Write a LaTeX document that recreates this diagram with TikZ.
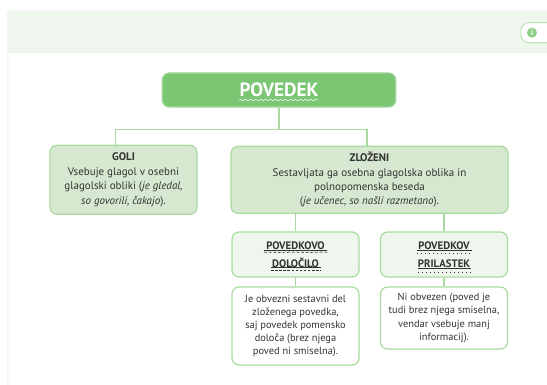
\documentclass[tikz,border=0pt]{standalone}
\usepackage{fontspec}
\setmainfont{PT Sans}
\usetikzlibrary{decorations.pathmorphing,calc}
\definecolor{band}{HTML}{EEF6EE}
\definecolor{edgeg}{HTML}{A9DBA0}
\definecolor{topg}{HTML}{7AC673}
\definecolor{midg}{HTML}{D6E9D0}
\definecolor{txt}{HTML}{333333}
\definecolor{cardedge}{HTML}{F5F5F5}
\tikzset{
  x=1pt,y=-1pt,
  conn/.style={draw=edgeg,line width=1.2pt},
  boxbase/.style={draw=edgeg,line width=1.2pt,rounded corners=7pt,align=center,inner sep=0pt,text=txt,font=\fontsize{11}{14.4}\selectfont},
  topbox/.style={boxbase,fill=topg,draw=topg!70!white,minimum width=233.5pt,minimum height=34pt,text=white,font=\fontsize{19.2}{18}\selectfont\bfseries},
  midbox/.style={boxbase,fill=midg},
  subbox/.style={boxbase,fill=band,minimum width=127pt,minimum height=45pt,font=\fontsize{10.8}{18}\selectfont\bfseries},
  descbox/.style={boxbase,fill=white,minimum width=127pt,font=\fontsize{10.4}{13.2}\selectfont},
  wave/.style={decorate,decoration={snake,amplitude=0.7pt,segment length=5pt},line width=0.5pt},
  solidu/.style={draw=txt,line width=0.5pt},
  waved/.style={draw=txt,line width=0.55pt,densely dashed,decorate,decoration={snake,amplitude=0.4pt,segment length=4pt}},
  dashu/.style={draw=txt,line width=0.7pt,dash pattern=on 2.5pt off 1.6pt},
  dotu/.style={draw=txt,line width=0.9pt,dash pattern=on 1pt off 3pt},
}
\begin{document}
\begin{tikzpicture}
\useasboundingbox (0,0) rectangle (547,385);
% card
\fill[cardedge] (6.5,385) -- (6.5,15) arc[start angle=180,end angle=90,radius=5pt] -- (547,10) -- (547,385) -- cycle;
\fill[white] (8.5,385) -- (8.5,16) arc[start angle=180,end angle=90,radius=4pt] -- (547,12) -- (547,385) -- cycle;
\fill[band] (8.5,53) -- (8.5,16) arc[start angle=180,end angle=90,radius=4pt] -- (547,12) -- (547,53) -- cycle;
% info pill
\clip (0,0) rectangle (547,385);
\node[draw=edgeg!80!white,fill=white,line width=0.9pt,rounded corners=8pt,minimum width=60pt,minimum height=20pt,inner sep=0pt] (pill) at (551,32.7) {};
\node[circle,fill=topg!85!white,minimum size=10pt,inner sep=0pt,text=white,font=\fontsize{8}{8}\selectfont\bfseries] (info) at (532,32.7) {i};
% boxes
\node[topbox] (top) at (279,90) {POVEDEK};
\node[midbox,minimum width=147pt,minimum height=69pt] (goli) at (123.5,179.8) {{\bfseries GOLI}\\Vsebuje glagol v osebni\\glagolski obliki (\emph{je gledal,}\\\emph{so govorili, čakajo}).};
\node[midbox,minimum width=277pt,minimum height=67pt] (zlozeni) at (369.5,179.8) {{\bfseries ZLOŽENI}\\Sestavljata ga osebna glagolska oblika in\\polnopomenska beseda\\(\emph{je učenec, so našli razmetano}).};
\node[subbox] (pd) at (295.5,254.5) {POVEDKOVO\\DOLOČILO};
\node[subbox] (pp) at (444,254.5) {POVEDKOV\\PRILASTEK};
\node[descbox,minimum height=78pt] (dd) at (295.5,326) {Je obvezni sestavni del\\zloženega povedka,\\saj povedek pomensko\\določa (brez njega\\poved ni smiselna).};
\node[descbox,minimum height=62pt] (dp) at (444,318) {Ni obvezen (poved je\\tudi brez njega smiselna,\\vendar vsebuje manj\\informacij).};
% connectors
\coordinate (bus) at (279,129.5);
\coordinate (gt) at (115.5,145);
\coordinate (zt) at (367,146);
\draw[conn] (top.south) -- (bus);
\draw[conn] (gt) |- (bus) -| (zt);
\draw[conn] (zlozeni.south -| pd.north) -- (pd.north);
\draw[conn] (zlozeni.south -| pp.north) -- (pp.north);
\draw[conn] (pd.south) -- (dd.north);
\draw[conn] (pp.south) -- (dp.north);
% underlines
\draw[white,wave] (239,100) -- (318.5,100);
\draw[solidu] (264,250) -- (327,250);
\draw[waved] (264,252.3) -- (327,252.3);
\draw[solidu] (271,267.5) -- (321,267.5);
\draw[dashu] (271,270.5) -- (321,270.5);
\draw[solidu] (417,250) -- (472,250);
\draw[dotu] (417,253.5) -- (473,253.5);
\draw[solidu] (418,268.5) -- (471,268.5);
\draw[dotu] (418,272) -- (472,272);
\end{tikzpicture}
\end{document}
